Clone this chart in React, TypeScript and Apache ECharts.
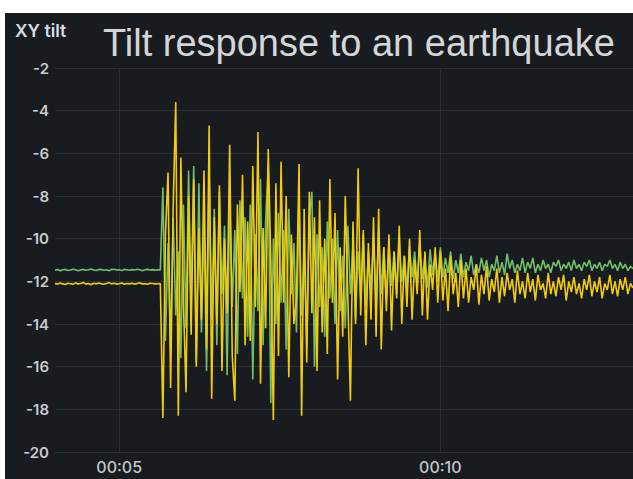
import React, { useEffect, useRef } from "react";
import * as echarts from "echarts";

const TITLE = "Tilt response to an earthquake";
const Y_NAME = "XY tilt";
const X_TICKS = [5, 10];
const X_TICK_LABELS = ["00:05", "00:10"];
const T_START = 4; // seconds
const T_STEP = 0.04; // seconds between samples

const greenValues = [
  -11.48, -11.45, -11.5, -11.46, -11.44, -11.49, -11.47, -11.43, -11.46, -11.5,
  -11.47, -11.44, -11.48, -11.46, -11.42, -11.47, -11.49, -11.45, -11.44, -11.48,
  -11.46, -11.5, -11.45, -11.43, -11.47, -11.46, -11.49, -11.44, -11.46, -11.48,
  -11.45, -11.47, -11.43, -11.46, -11.5, -11.46, -11.44, -11.47, -11.45, -11.48,
  -11.46, -11.47,
  -7.6, -14.8, -10.2, -15.2, -9.0, -13.6, -10.6, -15.6,
  -8.4, -14.2, -6.8, -13.0, -6.6, -15.8, -7.4, -14.4, -9.2, -16.2,
  -7.0, -13.8, -8.6, -15.0, -7.8, -12.6, -9.4, -16.4, -8.0, -13.2,
  -9.6, -15.4, -8.2, -12.8, -9.0, -14.6, -8.4, -16.6, -9.8, -13.4,
  -7.2, -15.0, -9.2, -6.5, -17.7, -10.0, -14.0, -8.8, -13.0, -9.6,
  -15.2, -8.6, -12.6, -10.2, -14.4, -8.2, -13.6, -10.6, -15.0, -9.0,
  -7.8, -16.0, -9.8, -13.2, -10.4, -14.6, -9.2, -12.8, -10.0, -14.0,
  -9.6, -13.4, -10.8, -14.2, -9.4, -12.6, -10.2, -13.8, -10.6, -12.8,
  -9.8, -13.2, -10.6, -12.4, -10.0, -13.0, -9.6, -12.6, -10.4, -12.9,
  -10.2, -12.2, -10.6, -12.6, -10.0, -12.0, -10.8, -12.4, -10.4, -11.8,
  -10.6, -12.2, -10.2, -11.9, -10.8, -12.3, -10.5, -11.7, -10.7, -12.0,
  -10.4, -11.8, -10.9, -11.6, -10.6, -11.9, -11.0, -11.6, -10.7, -11.8,
  -11.1, -11.5, -10.8, -11.7, -11.2, -11.6, -10.9, -11.5, -11.0, -11.8,
  -11.2, -11.5, -10.8, -11.6, -11.1, -11.7, -10.7, -11.4, -11.0, -11.6,
  -11.2, -11.5, -10.9, -11.6, -11.1, -11.4, -10.9, -11.6, -11.2, -11.5,
  -11.0, -11.4, -11.2, -11.6, -11.1, -11.3, -11.0, -11.5, -11.2, -11.4,
  -11.1, -11.5, -11.0, -11.4, -11.2, -11.5, -11.1, -11.3, -11.0, -11.5,
  -11.2, -11.4, -11.1, -11.5, -11.2, -11.3, -11.0, -11.4, -11.2, -11.5,
  -11.1, -11.4, -11.2, -11.5, -11.3, -11.4,
];

const yellowValues = [
  -12.1, -12.13, -12.08, -12.12, -12.15, -12.09, -12.11, -12.14, -12.07, -12.12,
  -12.1, -12.05, -12.13, -12.1, -12.16, -12.09, -12.12, -12.08, -12.11, -12.14,
  -12.1, -12.06, -12.12, -12.09, -12.13, -12.11, -12.08, -12.14, -12.1, -12.12,
  -12.09, -12.13, -12.1, -12.07, -12.12, -12.11, -12.14, -12.09, -12.1, -12.12,
  -12.11, -12.1,
  -18.4, -9.8, -6.9, -17.0, -8.5, -3.6, -18.3, -6.2,
  -13.0, -17.2, -8.0, -14.5, -7.2, -16.0, -9.5, -13.8, -6.8, -15.2,
  -4.7, -17.5, -9.0, -14.0, -7.5, -16.2, -10.0, -13.5, -5.6, -15.5,
  -17.6, -8.4, -12.5, -7.0, -15.0, -9.2, -14.8, -6.6, -13.2, -5.0,
  -16.8, -9.5, -14.2, -5.8, -11.0, -18.5, -7.4, -15.5, -6.4, -13.0,
  -8.0, -16.5, -9.8, -14.0, -12.8, -6.5, -18.3, -8.6, -15.8, -7.8,
  -13.5, -9.0, -16.2, -8.2, -14.4, -10.0, -15.4, -7.2, -13.0, -8.8,
  -16.6, -10.4, -14.6, -8.0, -12.8, -17.6, -9.2, -14.0, -6.7, -13.6,
  -9.6, -15.0, -10.2, -13.8, -9.0, -14.6, -8.6, -15.2, -10.4, -13.4,
  -9.8, -14.3, -10.6, -12.8, -9.4, -14.0, -10.8, -13.2, -10.0, -13.8,
  -11.0, -12.6, -9.6, -13.6, -10.6, -13.8, -11.2, -12.4, -10.4, -13.0,
  -10.6, -12.9, -11.4, -13.4, -10.8, -12.6, -11.6, -13.2, -11.0, -12.8,
  -11.4, -13.0, -11.8, -12.4, -11.2, -13.1, -11.7, -12.6, -11.3, -12.9,
  -11.9, -12.5, -11.4, -13.0, -11.8, -12.7, -11.6, -12.4, -11.9, -13.0,
  -11.5, -12.6, -12.0, -12.8, -11.6, -12.5, -11.9, -12.9, -11.7, -12.4,
  -12.1, -12.8, -11.6, -12.6, -12.0, -12.7, -11.8, -12.4, -11.7, -12.9,
  -12.0, -12.5, -11.8, -12.6, -12.1, -12.8, -11.9, -12.4, -11.7, -12.7,
  -12.0, -12.5, -11.8, -12.8, -12.1, -12.4, -11.7, -12.6, -12.0, -12.7,
  -11.9, -12.4, -11.8, -12.6, -12.1, -12.3,
];

const toPairs = (vals: number[]) =>
  vals.map((v, i) => [+(T_START + i * T_STEP).toFixed(2), v]);

const FONT = "Inter, 'Noto Sans', sans-serif";

export default function App() {
  const ref = useRef<HTMLDivElement>(null);
  useEffect(() => {
    document.body.style.margin = "0";
    document.body.style.background = "#ffffff";
    const chart = echarts.init(ref.current!, undefined, { renderer: "svg" });
    chart.setOption({
      animation: false,
      backgroundColor: "#181b1f",
      title: {
        text: TITLE,
        left: 93,
        top: 6,
        textStyle: {
          color: "#d4d5d7",
          fontSize: 38,
          fontWeight: "normal",
          fontFamily: "'Liberation Sans', Arial, sans-serif",
        },
      },
      graphic: [
        {
          type: "text",
          left: 10,
          top: 8,
          style: {
            text: Y_NAME,
            fill: "#d8dbe6",
            fontSize: 17.5,
            fontWeight: 600,
            fontFamily: FONT,
          },
        },
      ],
      grid: { left: 50, right: 0, top: 55, bottom: 27, containLabel: false },
      xAxis: {
        type: "value",
        min: T_START,
        max: 13,
        axisLine: { show: false },
        axisTick: { show: false, customValues: X_TICKS },
        axisLabel: {
          customValues: X_TICKS,
          color: "#c4c6cc",
          fontSize: 16,
          fontWeight: 500,
          margin: 7,
          fontFamily: FONT,
          formatter: (v: number) => X_TICK_LABELS[X_TICKS.indexOf(Math.round(v))] ?? "",
        },
        splitLine: { show: true, lineStyle: { color: "#2b2e34", width: 1 } },
      },
      yAxis: {
        type: "value",
        min: -20,
        max: -2,
        interval: 2,
        axisLine: { show: false },
        axisTick: { show: false },
        axisLabel: {
          color: "#c8cad0",
          fontSize: 15,
          fontWeight: 600,
          margin: 6,
          fontFamily: FONT,
        },
        splitLine: { show: true, lineStyle: { color: "#2b2e34", width: 1 } },
      },
      series: [
        {
          name: "green",
          type: "line",
          data: toPairs(greenValues),
          showSymbol: false,
          lineStyle: { color: "#73bf69", width: 1.6 },
          itemStyle: { color: "#73bf69" },
        },
        {
          name: "yellow",
          type: "line",
          data: toPairs(yellowValues),
          showSymbol: false,
          lineStyle: { color: "#f2cc0c", width: 1.6 },
          itemStyle: { color: "#f2cc0c" },
        },
      ],
    });
    return () => chart.dispose();
  }, []);
  return (
    <div
      ref={ref}
      style={{ position: "absolute", left: 5, top: 13, width: 628, height: 466 }}
    />
  );
}
